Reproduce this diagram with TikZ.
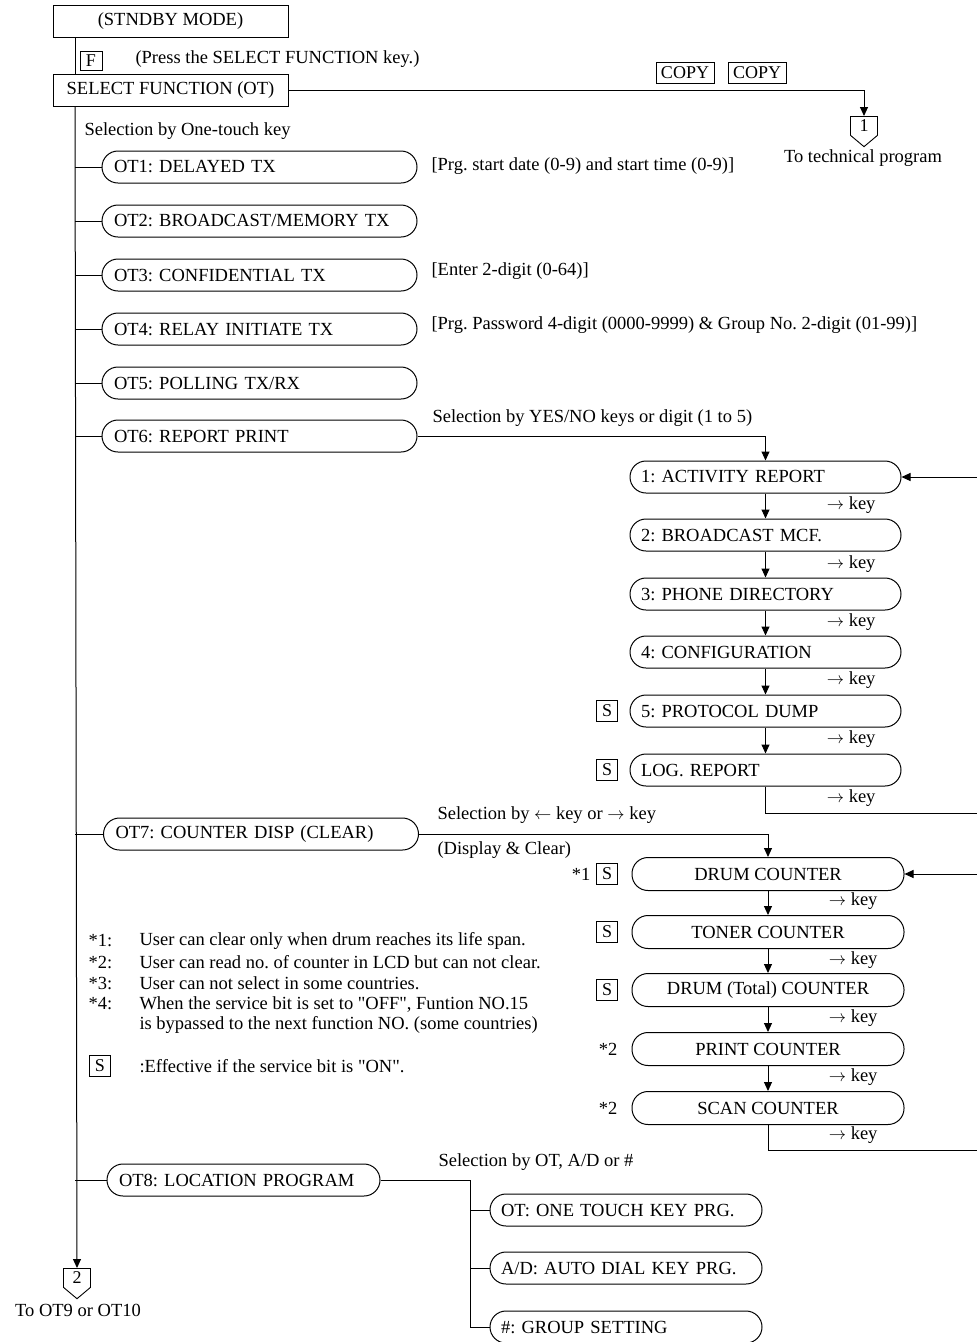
\documentclass[tikz,border=0pt]{standalone}
\usepackage{fontspec}
\setmainfont{Liberation Serif}[Ligatures=TeXOff]
\usetikzlibrary{arrows.meta,shapes.symbols,positioning}
\frenchspacing

\begin{document}
\begin{tikzpicture}[x=1pt, y=-1pt,
  font=\fontsize{18.5}{21}\selectfont,
  line/.style={line width=1pt},
  flow/.style={line width=1pt, -{Triangle[length=9pt,width=8pt]}},
  sqbox/.style={draw, line width=1pt, minimum width=235pt, minimum height=32pt, inner sep=0pt},
  otbox/.style={draw, line width=1pt, rounded corners=16pt, minimum height=32pt,
                text width=#1, inner xsep=12pt, inner ysep=0pt, align=left},
  cntbox/.style={draw, line width=1pt, rounded corners=16pt, minimum height=33pt,
                 minimum width=272pt, inner sep=0pt},
  keybox/.style={draw, line width=0.9pt, inner xsep=2.5pt, inner ysep=1pt,
                 minimum height=21pt, minimum width=21pt, font=\fontsize{18}{18}\selectfont},
  conn/.style={draw, line width=0.9pt, signal, signal to=south, signal pointer angle=100,
               minimum width=27pt, inner xsep=2pt, inner ysep=3.5pt, font=\fontsize{18}{18}\selectfont},
  keylbl/.style={anchor=east}
]
  \useasboundingbox (0,0) rectangle (977,1342);
  \coordinate (spine) at (75,0);
  \coordinate (bus)   at (470,0);

  %-- Start
  \node[sqbox] (stndby) at (170.5,21)  {(STNDBY MODE)};
  \node[keybox, minimum height=19pt, minimum width=22pt] (fkey) at (91,61) {F};
  \node[anchor=west]    at (132,59)    {(Press the SELECT FUNCTION key.)};
  \node[sqbox] (select) at (170.5,90.5) {SELECT FUNCTION (OT)};

  \node[keybox, inner xsep=5pt] (copya) at (685,73) {COPY};
  \node[keybox, inner xsep=5pt] (copyb) at (757,73) {COPY};
  \node[conn, anchor=north] (cont1) at (864,116) {1};
  \node at (863,158) {To technical program};

  %-- One-touch functions
  \node[anchor=west] at (81,131) {Selection by One-touch key};
  \node[otbox=291pt] (ot1) at (259.5,167) {OT1: DELAYED TX};
  \node[otbox=291pt] (ot2) at (259.5,221) {OT2: BROADCAST/MEMORY TX};
  \node[otbox=291pt] (ot3) at (259.5,275) {OT3: CONFIDENTIAL TX};
  \node[otbox=291pt] (ot4) at (259.5,329) {OT4: RELAY INITIATE TX};
  \node[otbox=291pt] (ot5) at (259.5,383) {OT5: POLLING TX/RX};
  \node[otbox=291pt] (ot6) at (259.5,436) {OT6: REPORT PRINT};
  \node[otbox=291pt] (ot7) at (261,834)   {OT7: COUNTER DISP (CLEAR)};
  \node[otbox=249pt] (ot8) at (243.5,1180) {OT8: LOCATION PROGRAM};

  \node[anchor=west] at (428,166) {[Prg. start date (0-9) and start time (0-9)]};
  \node[anchor=west] at (428,271) {[Enter 2-digit (0-64)]};
  \node[anchor=west] at (428,325) {[Prg. Password 4-digit (0000-9999) \& Group No. 2-digit (01-99)]};

  %-- Report print
  \node[anchor=west] at (429,418) {Selection by YES/NO keys or digit (1 to 5)};
  \node[otbox=249pt, inner xsep=11pt] (rep1) at (765.5,477) {1: ACTIVITY REPORT};
  \node[otbox=249pt, inner xsep=11pt] (rep2) at (765.5,535) {2: BROADCAST MCF.};
  \node[otbox=249pt, inner xsep=11pt] (rep3) at (765.5,594) {3: PHONE DIRECTORY};
  \node[otbox=249pt, inner xsep=11pt] (rep4) at (765.5,652) {4: CONFIGURATION};
  \node[otbox=249pt, inner xsep=11pt] (rep5) at (765.5,711) {5: PROTOCOL DUMP};
  \node[otbox=249pt, inner xsep=11pt] (rep6) at (765.5,770) {LOG. REPORT};
  \node[keybox] (s1) at (607,711) {S};
  \node[keybox] (s2) at (607,770) {S};

  %-- Counter display
  \node[anchor=west] at (434,815) {Selection by $\leftarrow$ key or $\rightarrow$ key};
  \node[anchor=west] at (434,850) {(Display \& Clear)};
  \node[cntbox] (cnt1) at (768,874)  {DRUM COUNTER};
  \node[cntbox] (cnt2) at (768,932)  {TONER COUNTER};
  \node[cntbox] (cnt3) at (768,990)  {DRUM (Total) COUNTER};
  \node[cntbox] (cnt4) at (768,1049) {PRINT COUNTER};
  \node[cntbox] (cnt5) at (768,1108) {SCAN COUNTER};
  \node[keybox] (s3) at (607,874) {S};
  \node[keybox] (s4) at (607,932) {S};
  \node[keybox] (s5) at (607,990) {S};
  \node[anchor=east] at (594,874)  {*1};
  \node[anchor=east] at (621,1049) {*2};
  \node[anchor=east] at (621,1108) {*2};

  %-- Notes
  \foreach \y/\m/\t in {941/*1:/{User can clear only when drum reaches its life span.},
                        962/*2:/{User can read no. of counter in LCD but can not clear.},
                        983/*3:/{User can not select in some countries.},
                        1004/*4:/{When the service bit is set to "OFF", Funtion NO.15}}{
    \node[anchor=west] at (85,\y)  {\m};
    \node[anchor=west] at (136,\y) {\t};
  }
  \node[anchor=west] at (136,1025) {is bypassed to the next function NO. (some countries)};
  \node[keybox] (sleg) at (100,1066) {S};
  \node[anchor=west] at (136,1066) {:Effective if the service bit is "ON".};

  %-- Location program
  \node[anchor=west] at (435,1162) {Selection by OT, A/D or \#};
  \node[otbox=250pt, inner xsep=11pt] (sub1) at (626,1210) {OT: ONE TOUCH KEY PRG.};
  \node[otbox=250pt, inner xsep=11pt] (sub2) at (626,1268) {A/D: AUTO DIAL KEY PRG.};
  \node[otbox=250pt, inner xsep=11pt] (sub3) at (626,1327) {\#: GROUP SETTING};

  \node[conn, anchor=north] (cont2) at (77,1268) {2};
  \node at (78,1310) {To OT9 or OT10};

  %-- Lines
  \draw[line] (stndby.south -| spine) -- (select.north -| spine);
  \draw[flow] (select.south -| spine) -- (cont2.north);
  \draw[flow] (select.east) -| (cont1.north);
  \foreach \n in {ot1,ot2,ot3,ot4,ot5,ot6,ot7,ot8}
    \draw[line] (\n.west -| spine) -- (\n.west);

  \draw[flow] (ot6.east) -| (rep1.north);
  \foreach \a/\b/\y in {rep1/rep2/505,rep2/rep3/564,rep3/rep4/622,rep4/rep5/680,rep5/rep6/739}{
    \draw[flow] (\a.south) -- (\b.north);
    \node[keylbl] at (879,\y) {$\rightarrow$ key};
  }
  \node[keylbl] at (879,798) {$\rightarrow$ key};
  \coordinate (rback) at (990,813);
  \draw[flow] (rep6.south) |- (rback) |- (rep1.east);

  \draw[flow] (ot7.east) -| (cnt1.north);
  \foreach \a/\b/\y in {cnt1/cnt2/901,cnt2/cnt3/960,cnt3/cnt4/1018,cnt4/cnt5/1077}{
    \draw[flow] (\a.south) -- (\b.north);
    \node[keylbl] at (881,\y) {$\rightarrow$ key};
  }
  \node[keylbl] at (881,1135) {$\rightarrow$ key};
  \coordinate (cback) at (990,1150);
  \draw[flow] (cnt5.south) |- (cback) |- (cnt1.east);

  \draw[line] (ot8.east) -| (sub3.west -| bus) -- (sub3.west);
  \draw[line] (sub1.west -| bus) -- (sub1.west);
  \draw[line] (sub2.west -| bus) -- (sub2.west);
\end{tikzpicture}
\end{document}
